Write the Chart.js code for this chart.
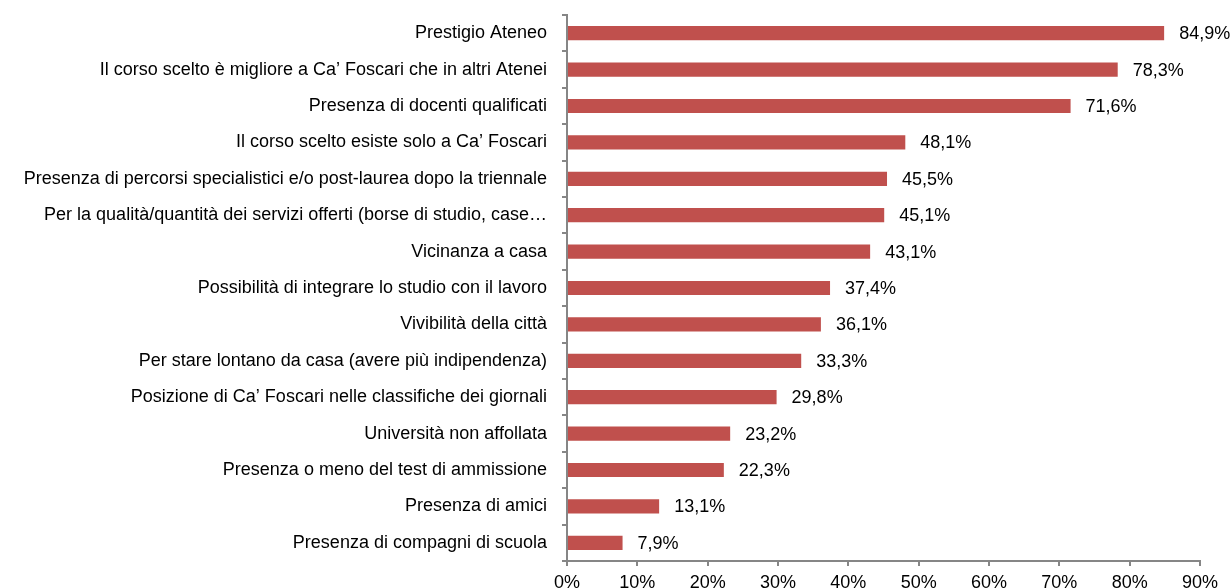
<!DOCTYPE html>
<html>
<head>
<meta charset="utf-8">
<script src="https://cdn.jsdelivr.net/npm/chart.js@4/dist/chart.umd.min.js"></script>
<style>
  html, body { margin: 0; padding: 0; background: #fff; }
  #wrap { width: 1232px; height: 588px; }
</style>
</head>
<body>
<div id="wrap"><canvas id="barChart"></canvas></div>
<script>
// Data --------------------------------------------------------------------------
const categories = [
    'Prestigio Ateneo',
    'Il corso scelto è migliore a Ca\u2019 Foscari che in altri Atenei',
    'Presenza di docenti qualificati',
    'Il corso scelto esiste solo a Ca\u2019 Foscari',
    'Presenza di percorsi specialistici e/o post-laurea dopo la triennale',
    'Per la qualità/quantità dei servizi offerti (borse di studio, case\u2026',
    'Vicinanza a casa',
    'Possibilità di integrare lo studio con il lavoro',
    'Vivibilità della città',
    'Per stare lontano da casa (avere più indipendenza)',
    'Posizione di Ca\u2019 Foscari nelle classifiche dei giornali',
    'Università non affollata',
    'Presenza o meno del test di ammissione',
    'Presenza di amici',
    'Presenza di compagni di scuola'
];
const percentages = [84.9, 78.3, 71.6, 48.1, 45.5, 45.1, 43.1, 37.4, 36.1, 33.3, 29.8, 23.2, 22.3, 13.1, 7.9];
const xTicks = [0, 10, 20, 30, 40, 50, 60, 70, 80, 90];

const fmt = v => v.toFixed(1).replace('.', ',') + '%';
const fontFamily = '"Liberation Sans", Arial, sans-serif';
const fontSize = 18;

// value labels next to each bar
const valueLabels = {
    id: 'valueLabels',
    afterDatasetsDraw(chart) {
        const ctx = chart.ctx;
        const meta = chart.getDatasetMeta(0);
        ctx.save();
        ctx.font = fontSize + 'px ' + fontFamily;
        ctx.fillStyle = '#000';
        ctx.textAlign = 'left';
        ctx.textBaseline = 'middle';
        meta.data.forEach((bar, i) => {
            ctx.fillText(fmt(percentages[i]), bar.x + 15, bar.y + 1);
        });
        ctx.restore();
    }
};

const axisGrey = '#868686';

new Chart(document.getElementById('barChart').getContext('2d'), {
    type: 'bar',
    data: {
        labels: categories,
        datasets: [{
            data: percentages,
            backgroundColor: '#C0504D',
            borderWidth: 0,
            barPercentage: 0.39,
            categoryPercentage: 1
        }]
    },
    options: {
        indexAxis: 'y',
        responsive: true,
        maintainAspectRatio: false,
        animation: false,
        layout: { padding: { top: 15, right: 32, left: 0, bottom: 0 } },
        plugins: {
            legend: { display: false },
            tooltip: { enabled: false }
        },
        scales: {
            x: {
                min: 0,
                max: 90,
                afterBuildTicks(scale) {
                    scale.ticks = xTicks.map(v => ({ value: v }));
                },
                afterFit(scale) { scale.height = 27; },
                ticks: {
                    callback: v => v + '%',
                    color: '#000',
                    padding: 6,
                    maxRotation: 0,
                    font: { family: fontFamily, size: fontSize }
                },
                grid: {
                    drawOnChartArea: false,
                    drawTicks: true,
                    tickLength: 5,
                    color: axisGrey,
                    lineWidth: 2
                },
                border: { color: axisGrey, width: 2 }
            },
            y: {
                afterFit(scale) {
                    scale.width = 567;
                    scale.paddingTop = 0;
                    scale.paddingBottom = 0;
                },
                ticks: {
                    color: '#000',
                    padding: 15,
                    autoSkip: false,
                    font: { family: fontFamily, size: fontSize }
                },
                grid: {
                    offset: true,
                    drawOnChartArea: false,
                    drawTicks: true,
                    tickLength: 5,
                    color: axisGrey,
                    lineWidth: 2
                },
                border: { color: axisGrey, width: 2 }
            }
        }
    },
    plugins: [valueLabels]
});
</script>
</body>
</html>
